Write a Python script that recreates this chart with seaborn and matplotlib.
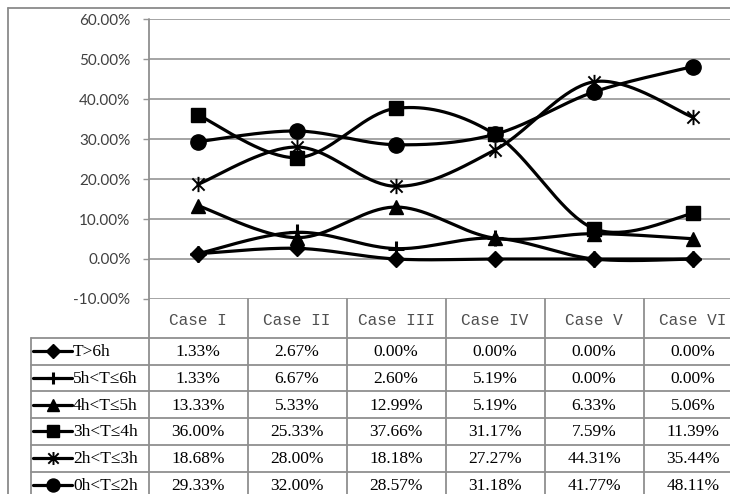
import numpy as np
import pandas as pd
import matplotlib
matplotlib.use("Agg")
import matplotlib.pyplot as plt
import seaborn as sns
from matplotlib.path import Path
from matplotlib.lines import Line2D
from matplotlib.transforms import blended_transform_factory

# ---- data (percent of trips per charging-duration band) ----
cases = ["Case I", "Case II", "Case III", "Case IV", "Case V", "Case VI"]
series_labels = ["T>6h", "5h<T≤6h", "4h<T≤5h", "3h<T≤4h", "2h<T≤3h", "0h<T≤2h"]
t_over_6 = [1.33, 2.67, 0.00, 0.00, 0.00, 0.00]
t_5_to_6 = [1.33, 6.67, 2.60, 5.19, 0.00, 0.00]
t_4_to_5 = [13.33, 5.33, 12.99, 5.19, 6.33, 5.06]
t_3_to_4 = [36.00, 25.33, 37.66, 31.17, 7.59, 11.39]
t_2_to_3 = [18.68, 28.00, 18.18, 27.27, 44.31, 35.44]
t_0_to_2 = [29.33, 32.00, 28.57, 31.18, 41.77, 48.11]
y_ticks = [-10, 0, 10, 20, 30, 40, 50, 60]

series_values = [t_over_6, t_5_to_6, t_4_to_5, t_3_to_4, t_2_to_3, t_0_to_2]

# asterisk marker: an X crossed by a vertical bar
star_path = Path(
    [(-1, -1), (1, 1), (-1, 1), (1, -1), (0, -1.25), (0, 1.25)],
    [Path.MOVETO, Path.LINETO, Path.MOVETO, Path.LINETO, Path.MOVETO, Path.LINETO],
)
marker_styles = [
    dict(marker="D", ms=8, mew=1),
    dict(marker="+", ms=11, mew=2.2),
    dict(marker="^", ms=10, mew=1),
    dict(marker="s", ms=10, mew=1),
    dict(marker=star_path, ms=11, mew=1.4),
    dict(marker="o", ms=11, mew=1),
]


def smooth_curve(values, n=40):
    """Bezier smoothing through each point (Catmull-Rom style control points)."""
    y = np.asarray(values, float)
    x = np.arange(len(y), dtype=float)
    pts = np.column_stack([x, y])
    out = []
    m = len(pts)
    t = np.linspace(0, 1, n)[:, None]
    for i in range(m - 1):
        p_prev = pts[max(i - 1, 0)]
        p0 = pts[i]
        p1 = pts[i + 1]
        p_next = pts[min(i + 2, m - 1)]
        c1 = p0 + (p1 - p_prev) / 6.0
        c2 = p1 - (p_next - p0) / 6.0
        seg = ((1 - t) ** 3) * p0 + 3 * ((1 - t) ** 2) * t * c1 + 3 * (1 - t) * t ** 2 * c2 + t ** 3 * p1
        out.append(seg if i == 0 else seg[1:])
    out = np.vstack(out)
    return out[:, 0], out[:, 1]


sns.set_style("white")
plt.rcParams["font.family"] = ["Lato", "DejaVu Sans"]

W, H = 730, 494
fig = plt.figure(figsize=(W / 100, H / 100), dpi=100)

# plot area in pixel terms
ax_left, ax_right, ax_top, ax_bottom = 148.5, 742.5, 19, 299
ax = fig.add_axes([ax_left / W, 1 - ax_bottom / H, (ax_right - ax_left) / W, (ax_bottom - ax_top) / H])
ax.set_xlim(-0.5, len(cases) - 0.5)
ax.set_ylim(-10, 60)

grid_col = "#959595"
ax.set_yticks(y_ticks)
ax.set_yticklabels([f"{v:.2f}%" for v in y_ticks], fontsize=11, color="#404040")
ax.set_xticks([])
ax.yaxis.grid(True, color=grid_col, lw=1.2)
ax.tick_params(axis="y", length=4.5, width=1.0, color=grid_col, pad=8.5, left=True)
for s in ax.spines.values():
    s.set_visible(False)
ax.set_facecolor("none")

# smoothed series with markers at each case
for vals, mk in zip(series_values, marker_styles):
    xs, ys = smooth_curve(vals)
    sns.lineplot(x=xs, y=ys, sort=False, estimator=None, color="black", lw=2.3, ax=ax, zorder=3)
    sns.lineplot(x=np.arange(len(vals)), y=vals, estimator=None, color="black", linestyle="",
                 marker=mk["marker"], ms=mk["ms"], mew=mk["mew"], mec="black", mfc="black",
                 ax=ax, zorder=4)
ax.set_xlim(-0.5, len(cases) - 0.5)
ax.set_ylim(-10, 60)

# overlay in pixel coordinates for frame and data table
ov = fig.add_axes([0, 0, 1, 1], zorder=5)
ov.set_xlim(0, W)
ov.set_ylim(H, 0)
ov.axis("off")
ov.patch.set_alpha(0)
bt = blended_transform_factory(ax.transData, ov.transData)

frame_col = "#8a8a8a"
line_col = "#8f8f8f"
# outer chart frame
ov.plot([8, 8], [8, H + 5], color=frame_col, lw=1.3)
ov.plot([8, W + 5], [8, 8], color=frame_col, lw=1.3)

# value axis line running down through the table
ov.plot([ax_left, ax_left], [ax_top, H + 5], color=line_col, lw=1.3)

header_top, header_bottom = 299, 338
row_h = 26.7
legend_left = 31
row_edges = [header_bottom + i * row_h for i in range(len(series_labels) + 1)]

# column separators
for i in range(len(cases) - 1):
    ov.plot([i + 0.5, i + 0.5], [header_top, H + 5], color=line_col, lw=1.3, transform=bt)
# row separators
for yv in row_edges:
    ov.plot([legend_left, W + 5], [yv, yv], color=line_col, lw=1.3)
ov.plot([legend_left, legend_left], [header_bottom, H + 5], color=line_col, lw=1.3)

# header labels
for i, c in enumerate(cases):
    ov.text(i, (header_top + header_bottom) / 2 + 2, c, transform=bt, ha="center", va="center",
            fontsize=11.5, color="#505050", family=["Liberation Mono", "DejaVu Sans Mono"])

# legend keys, labels, and values
for r, (lab, vals, mk) in enumerate(zip(series_labels, series_values, marker_styles)):
    yc = row_edges[r] + row_h / 2
    ov.add_line(Line2D([33, 72], [yc, yc], color="black", lw=2.3))
    ov.add_line(Line2D([52.5], [yc], color="black", linestyle="", marker=mk["marker"],
                       ms=mk["ms"] * 0.85, mew=mk["mew"], mec="black", mfc="black"))
    ov.text(73, yc + 1, lab, ha="left", va="center", fontsize=12.5, color="black",
            family=["Liberation Serif", "DejaVu Serif"])
    for i, v in enumerate(vals):
        ov.text(i, yc + 1, f"{v:.2f}%", transform=bt, ha="center", va="center", fontsize=12.5,
                color="black", family=["Liberation Serif", "DejaVu Serif"])

fig.savefig("out.png", dpi=100, facecolor="white")
